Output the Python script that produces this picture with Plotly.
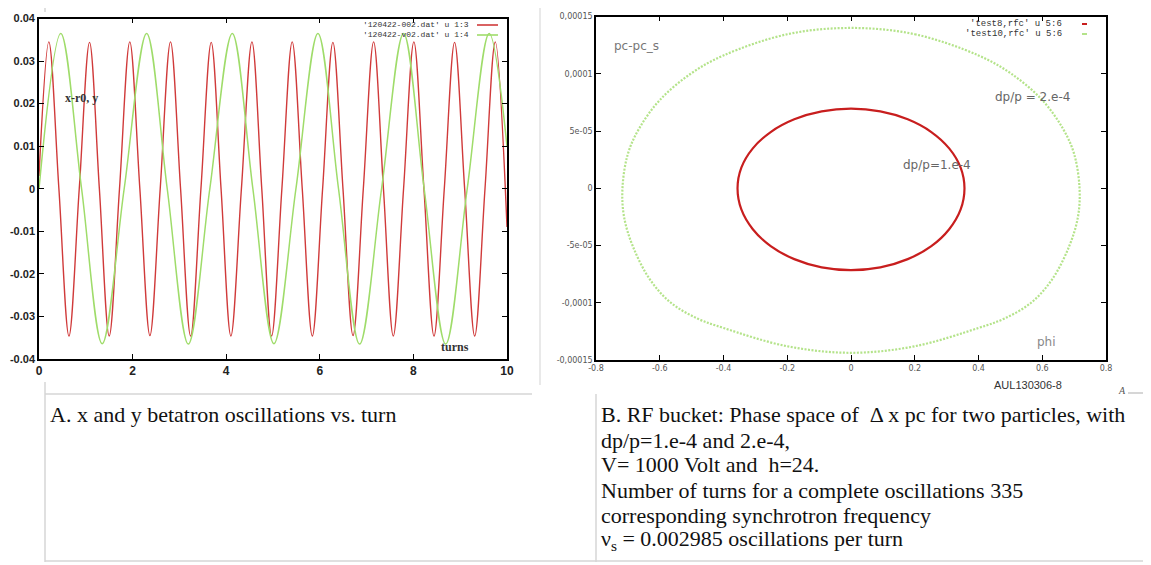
import plotly.graph_objects as go

W, H = 1151, 565
OFF = 8  # page margin of the html body, compensated in the layout

# ---------------- Panel A: betatron oscillations ----
# extremes and zero crossings of x-r0 (red) and y (green) vs. turn
red_x = [0.00, 0.21, 0.425, 0.64, 0.86, 1.08, 1.29, 1.50, 1.72, 1.94, 2.155, 2.37,
         2.59, 2.81, 3.025, 3.24, 3.46, 3.68, 3.89, 4.10, 4.325, 4.55, 4.76, 4.97,
         5.19, 5.41, 5.625, 5.84, 6.06, 6.28, 6.495, 6.71, 6.93, 7.15, 7.36, 7.57,
         7.79, 8.01, 8.225, 8.44, 8.66, 8.88, 9.095, 9.31, 9.53, 9.75, 10.0]
red_y = [0.003,
         0.0345, 0, -0.0346, 0,
         0.0344, 0, -0.0346, 0,
         0.0345, 0, -0.0345, 0,
         0.0345, 0, -0.0346, 0,
         0.0344, 0, -0.0346, 0,
         0.0345, 0, -0.0346, 0,
         0.0345, 0, -0.0346, 0,
         0.0344, 0, -0.0345, 0,
         0.0345, 0, -0.0346, 0,
         0.0345, 0, -0.0346, 0,
         0.0344, 0, -0.0346, 0,
         0.0345, -0.009]
green_x = [0.0, 0.465, 0.91, 1.35, 1.82, 2.30, 2.74, 3.19, 3.65, 4.13, 4.57, 5.02,
           5.49, 5.96, 6.40, 6.85, 7.32, 7.79, 8.23, 8.69, 9.15, 9.62, 10.0]
green_y = [0.0, 0.0365, 0, -0.0364, 0, 0.0365, 0, -0.0365, 0, 0.0365, 0, -0.0364,
           0, 0.0365, 0, -0.0365, 0, 0.0365, 0, -0.0365, 0, 0.0365, 0.010]

a_xticks = [0, 2, 4, 6, 8, 10]
a_xtext = ["0", "2", "4", "6", "8", "10"]
a_yticks = [0.04, 0.03, 0.02, 0.01, 0, -0.01, -0.02, -0.03, -0.04]
a_ytext = ["0.04", "0.03", "0.02", "0.01", "0", "-0.01", "-0.02", "-0.03", "-0.04"]

# ---------------- Panel B: RF bucket phase space ----
# dp/p = 1.e-4 (red), clockwise from the top
b1_x = [0.0, 0.092, 0.178, 0.252, 0.308, 0.344, 0.356, 0.344, 0.308, 0.252, 0.178,
        0.092, 0.0, -0.092, -0.178, -0.252, -0.308, -0.344, -0.356, -0.344, -0.308,
        -0.252, -0.178, -0.092, 0.0]
b1_y = [6.95e-5, 6.71e-5, 6.02e-5, 4.91e-5, 3.48e-5, 1.8e-5, 0.0, -1.85e-5, -3.58e-5,
        -5.06e-5, -6.19e-5, -6.91e-5, -7.15e-5, -6.91e-5, -6.19e-5, -5.06e-5,
        -3.58e-5, -1.85e-5, 0.0, 1.8e-5, 3.48e-5, 4.91e-5, 6.02e-5, 6.71e-5, 6.95e-5]
# dp/p = 2.e-4 (green), clockwise from the top
b2_x = [0.0, 0.2, 0.4, 0.503, 0.60, 0.665, 0.70, 0.717, 0.712, 0.684, 0.63, 0.565,
        0.48, 0.4, 0.2, 0.0, -0.2, -0.4, -0.48, -0.565, -0.63, -0.684, -0.712, -0.717,
        -0.70, -0.665, -0.60, -0.503, -0.4, -0.2, 0.0]
b2_y = [1.40e-4, 1.345e-4, 1.16e-4, 1.0e-4, 7.7e-5, 5.2e-5, 3.0e-5, 0.0, -2.5e-5,
        -5.1e-5, -8.0e-5, -1.0e-4, -1.14e-4, -1.22e-4, -1.38e-4, -1.437e-4,
        -1.38e-4, -1.22e-4, -1.14e-4, -1.0e-4, -8.0e-5, -5.1e-5, -2.5e-5, 0.0,
        3.0e-5, 5.2e-5, 7.7e-5, 1.0e-4, 1.16e-4, 1.345e-4, 1.40e-4]

b_xticks = [-0.8, -0.6, -0.4, -0.2, 0, 0.2, 0.4, 0.6, 0.8]
b_xtext = ["-0.8", "-0.6", "-0.4", "-0.2", "0", "0.2", "0.4", "0.6", "0.8"]
b_yticks = [1.5e-4, 1e-4, 5e-5, 0, -5e-5, -1e-4, -1.5e-4]
b_ytext = ["0,00015", "0,0001", "5e-05", "0", "-5e-05", "-0,0001", "-0,00015"]

RED_A = "#d03a3a"
GREEN_A = "#9fdc6a"
RED_B = "#c81e1e"
GREEN_B = "#b4e38a"


def px(x):
    return (x - OFF) / W


def py(y):
    return 1 - (y - OFF) / H


fig = go.Figure()
fig.add_trace(go.Scatter(x=red_x, y=red_y, mode="lines", xaxis="x", yaxis="y",
                         line=dict(color=RED_A, width=1.4, shape="spline", smoothing=1.0),
                         showlegend=False, hoverinfo="skip"))
fig.add_trace(go.Scatter(x=green_x, y=green_y, mode="lines", xaxis="x", yaxis="y",
                         line=dict(color=GREEN_A, width=1.5, shape="spline", smoothing=1.0),
                         showlegend=False, hoverinfo="skip"))
fig.add_trace(go.Scatter(x=b2_x, y=b2_y, mode="lines", xaxis="x2", yaxis="y2",
                         line=dict(color=GREEN_B, width=2.2, dash="2px,1.5px",
                                   shape="spline", smoothing=1.0),
                         showlegend=False, hoverinfo="skip"))
fig.add_trace(go.Scatter(x=b1_x, y=b1_y, mode="lines", xaxis="x2", yaxis="y2",
                         line=dict(color=RED_B, width=2.2, shape="spline", smoothing=1.0),
                         showlegend=False, hoverinfo="skip"))

tickfont_ax = dict(family="Liberation Sans", size=12, color="#222", weight="bold")
tickfont_ay = dict(family="Liberation Sans", size=11, color="#222", weight="bold")
tickfont_b = dict(family="DejaVu Sans", size=8, color="#555")
common = dict(ticks="inside", ticklen=5, tickcolor="black", mirror="ticks", showline=True,
              linecolor="black", linewidth=1.6, showgrid=False, zeroline=False,
              automargin=False)

fig.update_layout(
    width=W, height=H, margin=dict(l=0, r=0, t=0, b=0, autoexpand=False),
    paper_bgcolor="white", plot_bgcolor="white",
    xaxis=dict(domain=[px(39), px(507)], range=[0, 10], tickvals=a_xticks, ticktext=a_xtext,
               tickfont=tickfont_ax, anchor="y", **common),
    yaxis=dict(domain=[py(359), py(18.5)], range=[-0.04, 0.04], tickvals=a_yticks,
               ticktext=a_ytext, tickfont=tickfont_ay, anchor="x", **common),
    xaxis2=dict(domain=[px(596), px(1106)], range=[-0.8, 0.8], tickvals=b_xticks,
                ticktext=b_xtext, tickfont=tickfont_b, anchor="y2", **common),
    yaxis2=dict(domain=[py(360), py(16.5)], range=[-1.5e-4, 1.5e-4], tickvals=b_yticks,
                ticktext=b_ytext, tickfont=tickfont_b, anchor="x2", **common),
)

ann = []


def text(x, y, s, size, color="#222", family="Liberation Serif", xanchor="left",
         yanchor="middle", **kw):
    ann.append(dict(x=px(x), y=py(y), xref="paper", yref="paper", text=s, showarrow=False,
                    xanchor=xanchor, yanchor=yanchor, borderpad=0,
                    font=dict(size=size, color=color, family=family), **kw))


# panel A labels
text(64, 98, "<b>x-r0, y</b>", 12, color="#333")
text(440, 347, "<b>turns</b>", 12, color="#333")
text(470, 25, "'120422-002.dat' u 1:3", 8, color="#333", family="Liberation Mono",
     xanchor="right")
text(470, 35, "'120422-v02.dat' u 1:4", 8, color="#333", family="Liberation Mono",
     xanchor="right")

# panel B labels
text(613, 46, "pc-pc_s", 12, color="#777", family="DejaVu Sans")
text(994, 97, "dp/p = 2.e-4", 12, color="#666", family="DejaVu Sans")
text(902, 165, "dp/p=1.e-4", 12, color="#666", family="DejaVu Sans")
text(1036, 342, "phi", 12, color="#888", family="DejaVu Sans")
text(1063, 24, "'test8,rfc' u 5:6", 9, color="#333", family="Liberation Mono",
     xanchor="right")
text(1063, 34, "'test10,rfc' u 5:6", 9, color="#333", family="Liberation Mono",
     xanchor="right")
text(993, 385, "AUL130306-8", 11, color="#333", family="Liberation Sans")
text(1117, 390, "<i>A</i>", 10, color="#555", family="Liberation Serif")

# captions
cap_font = 22
text(49, 414, "A. x and y betatron oscillations vs. turn", cap_font, color="#111")
cap_b = [
    "B. RF bucket: Phase space of  \u0394 x pc for two particles, with",
    "dp/p=1.e-4 and 2.e-4,",
    "V= 1000 Volt and  h=24.",
    "Number of turns for a complete oscillations 335",
    "corresponding synchrotron frequency",
    "\u03bd<sub>s</sub> = 0.002985 oscillations per turn",
]
cap_y = [414, 440, 465, 490, 515, 540]
for s, yy in zip(cap_b, cap_y):
    text(600, yy, s, cap_font, color="#111")

fig.update_layout(annotations=ann)

# table / page lines and legend samples
shapes = []


def seg(x0, y0, x1, y1, color="#d6d6d6", width=1.5):
    shapes.append(dict(type="line", xref="paper", yref="paper", x0=px(x0), y0=py(y0),
                       x1=px(x1), y1=py(y1), line=dict(color=color, width=width)))


seg(45, 0, 45, 12)
seg(45, 382, 45, 562)
seg(45, 394, 532, 394)
seg(540, 0, 540, 385, color="#e2e2e2")
seg(596, 394, 596, 562)
seg(45, 561, 1151, 561)
seg(1128, 393, 1151, 393, color="#c8c8c8")
# legend samples
seg(477, 25, 498, 25, color=RED_A, width=1.6)
seg(477, 35, 498, 35, color=GREEN_A, width=1.6)
seg(1082, 24, 1087, 24, color=RED_B, width=2)
seg(1082, 34, 1087, 34, color=GREEN_B, width=2)
fig.update_layout(shapes=shapes)

fig.write_html("out.html")
